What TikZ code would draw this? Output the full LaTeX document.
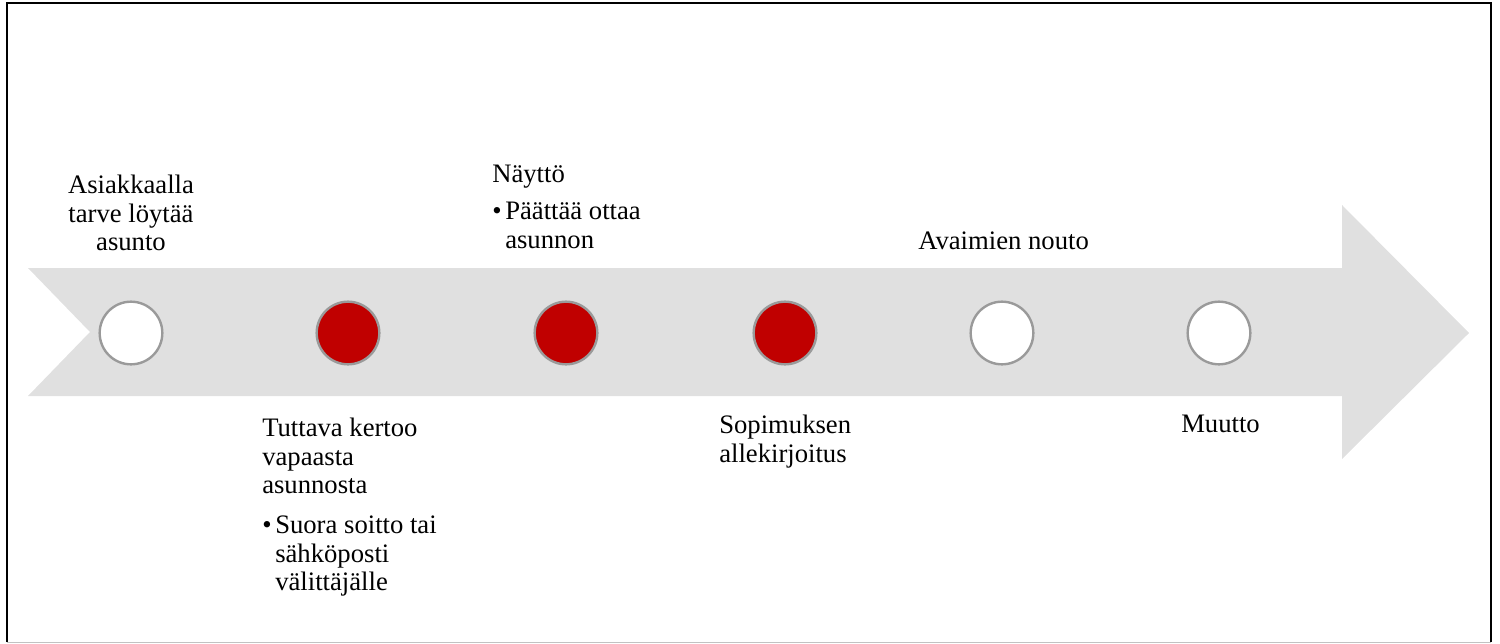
\documentclass[tikz,border=0pt]{standalone}
\usepackage{fontspec}
\setmainfont{Liberation Serif}
\usepackage{tikz}
\definecolor{arrowgray}{HTML}{E0E0E0}
\definecolor{ringgray}{HTML}{9A9A9A}
\definecolor{stepred}{HTML}{C00000}
\tikzstyle{dot} = [circle, draw=ringgray, line width=1.8pt,
    minimum size=47pt, inner sep=0pt]
\tikzstyle{lbl} = [inner sep=0pt, align=left,
    font=\fontsize{20}{21.4}\selectfont]
\newcommand{\bul}{\makebox[9.75pt][l]{\textbullet}}
\newcommand{\hang}{\hspace*{9.75pt}}

\begin{document}
\begin{tikzpicture}[x=0.75pt, y=-0.75pt]
\useasboundingbox (0,0) rectangle (1500,643);
    %frame
    \draw[line width=1.5pt] (7,642) -- (7,3) -- (1491,3) -- (1491,642);
    \draw[ringgray!60, line width=0.75pt] (7,642) -- (1491,642);
    %arrow
    \fill[arrowgray] (28,268) -- (1342,268) -- (1342,205) -- (1469,333)
        -- (1342,459) -- (1342,396) -- (28,396) -- (90,332) -- cycle;
    %steps
    \node[dot, fill=white] (c1) at (131,333) {};
    \node[dot, fill=stepred] (c2) at (348,333) {};
    \node[dot, fill=stepred] (c3) at (566,333) {};
    \node[dot, fill=stepred] (c4) at (785,333) {};
    \node[dot, fill=white] (c5) at (1002,333) {};
    \node[dot, fill=white] (c6) at (1219,333) {};
    %labels above
    \node[lbl, align=center, anchor=north] (t1) at (131,175)
        {Asiakkaalla\\tarve löytää\\asunto};
    \node[lbl, anchor=north west] (t3) at (492,165) {Näyttö};
    \node[lbl, anchor=north west] (t3b) at (492,202)
        {\bul Päättää ottaa\\\hang asunnon};
    \node[lbl, anchor=north west] (t5) at (918,232) {Avaimien nouto};
    %labels below
    \node[lbl, anchor=north west] (t2) at (262,418)
        {Tuttava kertoo\\vapaasta\\asunnosta};
    \node[lbl, anchor=north west] (t2b) at (262,516)
        {\bul Suora soitto tai\\\hang sähköposti\\\hang välittäjälle};
    \node[lbl, anchor=north west] (t4) at (719,415)
        {Sopimuksen\\allekirjoitus};
    \node[lbl, anchor=north west] (t6) at (1181,415) {Muutto};
\end{tikzpicture}
\end{document}
